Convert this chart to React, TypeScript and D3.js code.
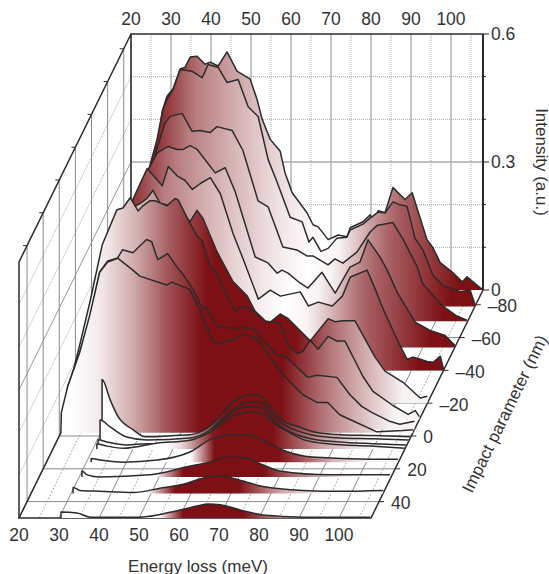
import React from 'react';
import * as d3 from 'd3';

// [energy loss meV, intensity a.u.], back spectrum first
const specM89 = [[20,0],[21,.059],[23.5,.235],[26.8,.353],[27.8,.419],[29,.454],[30.5,.471],[32.3,.518],[33.5,.522],[34.8,.546],[36.5,.548],[38.5,.529],[39.8,.534],[41.8,.525],[44,.558],[46.5,.513],[49.8,.494],[51.5,.447],[52.8,.4],[54.8,.353],[57.3,.325],[58.5,.275],[60.3,.228],[64,.181],[65.5,.153],[66.8,.148],[69.3,.118],[71.8,.129],[74,.125],[74.8,.146],[78,.16],[79.8,.176],[80.5,.158],[81.8,.186],[83.5,.181],[85.5,.24],[88.5,.212],[90.3,.228],[94,.118],[95.5,.099],[97.3,.064],[100.3,.042],[102.8,.019],[104,.031],[105.5,.019],[107.3,.005],[108,.002]];
const specM79 = [[20,0],[21.8,.061],[24.3,.214],[26.8,.332],[28.5,.391],[30,.461],[31,.485],[32.5,.508],[34.3,.555],[37.3,.551],[39.8,.536],[41.3,.567],[43.8,.56],[46,.525],[48.8,.532],[51.3,.468],[53.8,.445],[56.3,.344],[58.5,.292],[61.8,.209],[64.8,.198],[66.5,.151],[67.5,.162],[69.5,.129],[71.3,.136],[73.5,.16],[76,.162],[76.8,.179],[80,.193],[81.8,.207],[83.8,.221],[85.5,.219],[87.5,.245],[89.3,.238],[91,.235],[93,.16],[95,.132],[97.5,.073],[100,.049],[104.3,.035],[106.8,.038],[108,.005]];
const specM70 = [[20,0],[22.3,.087],[24.8,.205],[28.6,.346],[30.3,.405],[32.3,.464],[33.6,.48],[36.6,.487],[39.1,.445],[41.1,.447],[43.6,.442],[45.3,.456],[49.1,.447],[51.8,.4],[55.6,.282],[58.1,.268],[61.8,.174],[65.3,.167],[67.8,.153],[69.3,.153],[73.1,.132],[74.8,.146],[76.8,.136],[80.3,.162],[83.6,.209],[85.3,.224],[89.3,.231],[91.8,.193],[95.3,.129],[96.8,.087],[101.8,.035],[105.3,.012],[107.8,.002]];
const specM54 = [[20,0],[23,.111],[26.8,.287],[30.6,.405],[33.6,.456],[36.3,.471],[38.6,.464],[40.1,.464],[41.8,.473],[43.6,.464],[48.1,.409],[50.6,.421],[53.1,.365],[58.1,.212],[61.3,.198],[63.6,.174],[64.8,.181],[66.3,.174],[69.3,.151],[71.3,.139],[74.8,.176],[78.1,.127],[81.8,.188],[84.3,.2],[86.3,.252],[89.3,.212],[91.1,.181],[93.6,.129],[98.1,.059],[101.8,.04],[105.6,.028],[108,.005]];
const specM40 = [[20,0],[23.4,.12],[27.2,.285],[30.4,.402],[33.9,.473],[37.7,.433],[39.2,.478],[41.4,.456],[43.4,.445],[45.2,.424],[47.2,.438],[49.7,.452],[52.2,.414],[55.4,.32],[57.9,.261],[61.7,.167],[64.7,.188],[67.2,.174],[72.2,.184],[74.2,.151],[76.7,.16],[80.2,.151],[82.7,.174],[84.7,.219],[88.9,.235],[90.9,.191],[92.9,.144],[96.7,.066],[98.9,.026],[100.4,.031],[102.2,.026],[103.9,.021],[105.4,.019],[107.2,.033],[108,.002]];
const specM20 = [[20,0],[22.4,.151],[26.2,.327],[31.2,.445],[36.2,.468],[37.9,.48],[39.4,.499],[41.2,.468],[44.9,.461],[48.7,.426],[50.4,.452],[51.9,.433],[55.4,.355],[59.4,.285],[62.9,.252],[64.9,.216],[68.2,.186],[71.2,.209],[73.2,.198],[78.7,.146],[83.2,.198],[84.9,.191],[86.9,.193],[89.9,.193],[94.9,.108],[97.4,.075],[101.9,.049],[106.2,.012],[108,.016]];
const specM10 = [[20,0],[20.7,.085],[23.2,.179],[25.7,.278],[28.7,.409],[32.4,.492],[33.9,.496],[35.7,.52],[37.7,.489],[38.9,.501],[40.7,.513],[41.9,.513],[43.2,.508],[44.9,.501],[46.9,.518],[47.7,.515],[50.2,.468],[52.4,.431],[53.7,.419],[55.7,.362],[57.7,.339],[58.9,.308],[61.9,.254],[63.7,.266],[66.4,.256],[69.4,.231],[73.2,.226],[75.2,.174],[77.4,.155],[78.9,.16],[80.7,.186],[82.7,.165],[85.2,.195],[87.4,.184],[89.4,.184],[93.9,.101],[96.4,.066],[101.4,.033],[105.2,.012],[107,.021],[108,.007]];
const specM4 = [[20,0],[20.3,.04],[21.3,.101],[24.3,.181],[26.8,.259],[29.3,.369],[31.3,.395],[33.8,.402],[35,.421],[37.6,.414],[41,.445],[42.3,.44],[43.8,.398],[46.3,.412],[48.6,.381],[50,.365],[52.6,.329],[54.8,.287],[56,.285],[58.8,.24],[62.3,.238],[67.6,.238],[71,.2],[73.6,.176],[76,.169],[81.3,.122],[83.6,.127],[88.6,.122],[91.8,.082],[94.8,.054],[97.3,.04],[101.8,.019],[104.3,.012],[108,.019]];
const specM2 = [[20,0],[20.1,.047],[21.7,.108],[24.7,.188],[27.2,.275],[29.7,.376],[31.7,.4],[34.2,.409],[38,.381],[39.7,.367],[46.5,.346],[47.7,.353],[52.2,.336],[54.7,.289],[57.7,.219],[59.7,.207],[61.5,.216],[62.7,.216],[66,.231],[69.2,.219],[72.2,.179],[75.5,.136],[80.5,.089],[84,.071],[86.7,.071],[89.7,.042],[93.9,.024],[99,.002],[105.5,.005],[108,.007]];
const spec1 = [[30.9,0],[30.9,.136],[32.9,.089],[34.9,.049],[38.6,.019],[41.6,.002],[49.1,.005],[52.9,.007],[56.1,.016],[58.4,.031],[61.1,.059],[62.9,.078],[64.6,.089],[68.6,.101],[71,.094],[73.9,.061],[76.4,.038],[79.9,.026],[83.6,.014],[90.6,.007],[98.9,.005],[107.9,.002]];
const spec3 = [[30.8,0],[30.8,.049],[33.3,.033],[37.5,.009],[42.5,.002],[53.3,.007],[57.5,.021],[60,.04],[62.5,.061],[65,.08],[68.3,.092],[71.3,.089],[74,.061],[76.5,.04],[80,.024],[83.8,.014],[90.8,.007],[99,.005],[108,.002]];
const spec6 = [[30.9,0],[30.9,.014],[33.1,.009],[38.1,.002],[43.1,.005],[48.9,.005],[53.9,.009],[58.1,.026],[62.1,.061],[65.6,.085],[68.9,.092],[71.9,.089],[74.6,.061],[77.1,.042],[80.6,.026],[84.4,.016],[91.4,.009],[99.6,.005],[107.9,.002]];
const spec8 = [[31,0],[31,.012],[33.6,.007],[37.6,.002],[46,.014],[54.3,.021],[59.3,.04],[64.3,.073],[67.6,.085],[69.3,.087],[73,.08],[76,.056],[79.3,.038],[83,.021],[89.3,.012],[99.3,.007],[108,.002]];
const spec16 = [[31.2,0],[31.2,.009],[33.4,.005],[39.2,0],[47.7,.005],[55.9,.024],[61.6,.056],[66.6,.064],[70.9,.064],[73.9,.052],[79.2,.028],[86.4,.012],[100.9,.007],[107.9,.007]];
const spec25 = [[30.7,0],[30.7,.014],[32,.005],[35.2,0],[47.7,.005],[57,.024],[62.7,.035],[67.2,.047],[71.5,.045],[76,.028],[80.2,.014],[92.7,.005],[107.7,.005]];
const spec35 = [[30.5,0],[30.5,.014],[32.2,.007],[37.2,.005],[45.5,.002],[52.2,.012],[59,.024],[64,.038],[67.7,.04],[72.2,.031],[78,.016],[88,.007],[97.2,.005],[108,.007]];
const spec50 = [[30.5,0],[30.5,.014],[34.5,.012],[37.8,.002],[50.3,.002],[60.3,.019],[64.5,.028],[67.3,.033],[70.3,.031],[75.3,.019],[81,.007],[91,.002],[107.8,.002]];

const impactValues = [-89, -79, -70, -54, -40, -20, -10, -4, -2, 1, 3, 6, 8, 16, 25, 35, 50];
const spectra = [specM89, specM79, specM70, specM54, specM40, specM20, specM10, specM4, specM2, spec1, spec3, spec6, spec8, spec16, spec25, spec35, spec50];

// shade along energy: 0 = white, 1 = full dark red
const rampBack = [[26,1],[32,.8],[38,.55],[50,.3],[60,.1],[68,0],[74,.05],[82,.4],[88,.65],[96,.85],[102,1]];
const rampMid = [[23,0],[30,.1],[38,.35],[46,.7],[55,1],[75,1],[85,.6],[94,.3],[102,.05]];
const rampGroup = [[48,0],[52,.15],[60,.95],[62,1],[75,1],[79,.8],[88,.35],[99,.05],[104,0]];
const ramp16 = [[56,0],[62,1],[78,1],[86,.6],[92,.3],[100,.05]];
const ramp25 = [[49,0],[56,1],[76,1],[85,.55],[96,.1],[102,0]];
const ramp35 = [[49,0],[56,1],[72,1],[82,.4],[92,.05]];
const ramp50 = [[55,0],[61,1],[76,1],[85,.5],[97,.05]];
const ramps = [rampBack, rampBack, rampBack, rampBack, rampBack, rampMid, rampMid, rampMid, rampMid, rampGroup, rampGroup, rampGroup, rampGroup, ramp16, ramp25, ramp35, ramp50];

const energyTicks = [20, 30, 40, 50, 60, 70, 80, 90, 100];
const energyMinor = [25, 35, 45, 55, 65, 75, 85, 95, 105];
const intensityTicks = [0, 0.3, 0.6];
const intensityMinor = [0.1, 0.2, 0.4, 0.5];
const impactTicks = [-80, -60, -40, -20, 0, 20, 40];

const E_MAX = 108;
const P_BACK = -89;
const P_FRONT = 50;

const xE = d3.scaleLinear().domain([20, E_MAX]).range([0, 352]);
const xShift = d3.scaleLinear().domain([P_BACK, P_FRONT]).range([131, 19]);
const yFloor = d3.scaleLinear().domain([P_BACK, P_FRONT]).range([290, 518]);
const yI = d3.scaleLinear().domain([0, 0.6]).range([0, 256]);
const shade = d3.interpolateRgb('#ffffff', '#7c1015');

const px = (e: number, p: number) => xShift(p) + xE(e);
const py = (i: number, p: number) => yFloor(p) - yI(i);

const INK = '#2b2b2b';
const GRID = '#8a8a8a';
const DOT = '#a8a8a8';
const fontFamily = '"Liberation Sans", Arial, sans-serif';

const App = () => {
  const top = py(0.6, P_BACK);
  const floor = yFloor(P_BACK);
  const minus = (v: number) => (v < 0 ? `–${-v}` : `${v}`);

  return (
    <svg width={549} height={574} style={{ position: 'absolute', left: 0, top: 0, display: 'block' }} fontFamily={fontFamily}>
      <defs>
        {spectra.map((_, i) => (
          <linearGradient key={i} id={`fill${i}`} gradientUnits="userSpaceOnUse"
            x1={px(20, impactValues[i])} x2={px(E_MAX, impactValues[i])} y1={0} y2={0}>
            {ramps[i].map(([e, t]) => (
              <stop key={e} offset={(e - 20) / (E_MAX - 20)} stopColor={shade(t)} />
            ))}
          </linearGradient>
        ))}
      </defs>
      <rect width={549} height={574} fill="#fff" />

      {/* back wall */}
      {energyMinor.map(e => (
        <line key={e} x1={px(e, P_BACK)} x2={px(e, P_BACK)} y1={top} y2={floor} stroke={DOT} strokeDasharray="1 1" />
      ))}
      {energyTicks.map(e => (
        <line key={e} x1={px(e, P_BACK)} x2={px(e, P_BACK)} y1={top} y2={floor} stroke={GRID} />
      ))}
      {intensityMinor.map(v => (
        <line key={v} x1={px(20, P_BACK)} x2={px(E_MAX, P_BACK)} y1={py(v, P_BACK)} y2={py(v, P_BACK)} stroke={DOT} strokeDasharray="1 1" />
      ))}
      <line x1={px(20, P_BACK)} x2={px(E_MAX, P_BACK)} y1={py(0.3, P_BACK)} y2={py(0.3, P_BACK)} stroke="#aaa" strokeWidth={1.5} />

      {/* left wall */}
      {intensityMinor.map(v => (
        <line key={v} x1={px(20, P_BACK)} x2={px(20, P_FRONT)} y1={py(v, P_BACK)} y2={py(v, P_FRONT)} stroke={DOT} strokeDasharray="1 1" />
      ))}
      <line x1={px(20, P_BACK)} x2={px(20, P_FRONT)} y1={py(0.3, P_BACK)} y2={py(0.3, P_FRONT)} stroke="#999" />
      {impactTicks.map(p => (
        <g key={p}>
          <line x1={px(20, p)} x2={px(20, p)} y1={py(0.6, p)} y2={py(0, p)} stroke={GRID} />
          <line x1={px(20, p) - 4} x2={px(20, p)} y1={py(0.6, p)} y2={py(0.6, p)} stroke={INK} />
        </g>
      ))}

      {/* floor */}
      {energyMinor.map(e => (
        <line key={e} x1={px(e, P_BACK)} x2={px(e, P_FRONT)} y1={floor} y2={yFloor(P_FRONT)} stroke={DOT} strokeDasharray="2 1.5" />
      ))}
      {energyTicks.map(e => (
        <line key={e} x1={px(e, P_BACK)} x2={px(e, P_FRONT)} y1={floor} y2={yFloor(P_FRONT)} stroke={GRID} />
      ))}
      {impactTicks.map(p => (
        <line key={p} x1={px(20, p)} x2={px(E_MAX, p)} y1={yFloor(p)} y2={yFloor(p)} stroke={GRID} />
      ))}

      {/* box edges */}
      <g fill="none" stroke={INK}>
        <path strokeWidth={1.5} d={`M${px(20, P_BACK)},${floor}V${top}H${px(E_MAX, P_BACK)}`} />
        <path strokeWidth={2} d={`M${px(E_MAX, P_BACK)},${top}V${floor}`} />
        <path strokeWidth={1.5} d={`M${px(20, P_BACK)},${top}L${px(20, P_FRONT)},${py(0.6, P_FRONT)}V${yFloor(P_FRONT)}`} />
        <path strokeWidth={1.5} d={`M${px(20, P_BACK)},${floor}L${px(20, P_FRONT)},${yFloor(P_FRONT)}H${px(E_MAX, P_FRONT)}L${px(E_MAX, P_BACK)},${floor}`} />
      </g>

      {/* spectra, back to front */}
      {spectra.map((pts, i) => {
        const p = impactValues[i];
        const base = yFloor(p);
        const line = d3.line<number[]>().x(d => px(d[0], p)).y(d => py(d[1], p))
          .curve(i >= 9 ? d3.curveMonotoneX : d3.curveLinear);
        const d = line(pts) as string;
        return (
          <g key={i}>
            <path d={`${d}L${px(pts[pts.length - 1][0], p)},${base}L${px(pts[0][0], p)},${base}Z`} fill={`url(#fill${i})`} />
            <path d={d} fill="none" stroke={INK} strokeWidth={1.5} strokeLinejoin="round" />
          </g>
        );
      })}

      {/* axis ticks and labels */}
      <g fill="#333" fontSize={17.5}>
        {energyTicks.map(e => (
          <text key={e} x={px(e, P_BACK)} y={19} textAnchor="middle" dominantBaseline="central">{e}</text>
        ))}
        {energyTicks.map(e => (
          <text key={e} x={px(e, P_FRONT)} y={535} textAnchor="middle" dominantBaseline="central">{e}</text>
        ))}
        {intensityTicks.map(v => (
          <g key={v}>
            <line x1={px(E_MAX, P_BACK)} x2={px(E_MAX, P_BACK) + 6} y1={py(v, P_BACK)} y2={py(v, P_BACK)} stroke={INK} />
            <text x={491} y={py(v, P_BACK)} dominantBaseline="central">{v}</text>
          </g>
        ))}
        {intensityMinor.map(v => (
          <line key={v} x1={px(E_MAX, P_BACK)} x2={px(E_MAX, P_BACK) + 3} y1={py(v, P_BACK)} y2={py(v, P_BACK)} stroke={INK} />
        ))}
        {impactTicks.map(p => (
          <g key={p}>
            <line x1={px(E_MAX, p)} x2={px(E_MAX, p) + 5} y1={yFloor(p)} y2={yFloor(p)} stroke={INK} />
            <text x={px(E_MAX, p) + 12} y={yFloor(p) + 1.5} dominantBaseline="central">{minus(p)}</text>
          </g>
        ))}
      </g>
      <g fill="#333" fontSize={17}>
        <text x={198} y={566} textAnchor="middle" dominantBaseline="central">Energy loss (meV)</text>
        <text transform="translate(541,162) rotate(90)" textAnchor="middle" dominantBaseline="central">Intensity (a.u.)</text>
        <text transform="translate(505,414) rotate(-64)" textAnchor="middle" dominantBaseline="central">Impact parameter (nm)</text>
      </g>
    </svg>
  );
};

export default App;
